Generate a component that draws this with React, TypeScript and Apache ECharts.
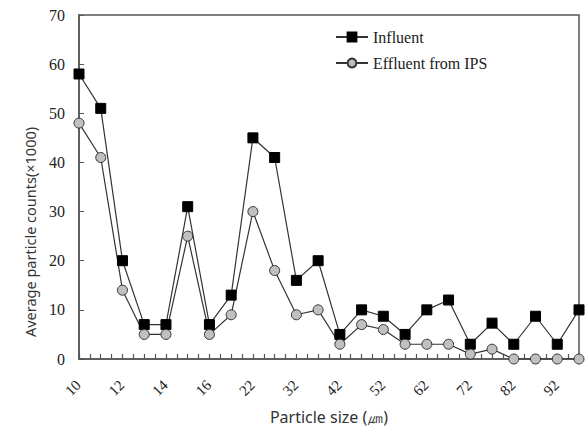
import React, { useEffect, useRef } from "react";
import * as echarts from "echarts";

const sizes = ["10","11","12","13","14","15","16","19","22","27","32","37","42","47","52","57","62","67","72","77","82","87","92","97"];
const shownLabels = ["10","12","14","16","22","32","42","52","62","72","82","92"];
const influent = [58,51,20,7,7,31,7,13,45,41,16,20,5,10,8.7,5,10,12,3,7.3,3,8.7,3,10];
const effluent = [48,41,14,5,5,25,5,9,30,18,9,10,3,7,6,3,3,3,1,2,0,0,0,0];
const yTicks = [0,10,20,30,40,50,60,70];

export default function App() {
  const ref = useRef<HTMLDivElement>(null);
  useEffect(() => {
    const chart = echarts.init(ref.current!, null, { renderer: "svg" });
    const serif = "Liberation Serif";
    chart.setOption({
      animation: false,
      backgroundColor: "#fff",
      grid: {
        left: 79, right: 6, top: 15, bottom: 72,
        outerBoundsMode: "none",
        show: true, borderColor: "#555", borderWidth: 1.5,
      },
      legend: {
        orient: "vertical",
        left: 330,
        top: 24,
        itemWidth: 32,
        itemHeight: 11,
        itemGap: 10,
        textStyle: { fontFamily: serif, fontSize: 16, color: "#222" },
        data: ["Influent", "Effluent from IPS"],
      },
      xAxis: [
        {
          type: "category",
          data: sizes,
          boundaryGap: false,
          axisLine: { show: true, lineStyle: { color: "#555", width: 1.5 } },
          axisTick: { show: false },
          axisLabel: { show: false },
          splitLine: { show: false },
        },
        {
          type: "value",
          min: 0,
          max: sizes.length - 1,
          interval: 1,
          position: "bottom",
          name: "Particle size (㎛)",
          nameLocation: "middle",
          nameGap: 50,
          nameTextStyle: { fontFamily: "Noto Sans", fontSize: 16, color: "#333" },
          axisLine: { show: false },
          axisTick: { show: true, inside: true, length: 5, lineStyle: { color: "#555", width: 1.2 } },
          minorTick: { show: true, splitNumber: 2, length: 5, lineStyle: { color: "#555", width: 1.2 } },
          axisLabel: { show: false },
          splitLine: { show: false },
        },
      ],
      yAxis: {
        type: "value",
        min: 0,
        max: yTicks[yTicks.length - 1],
        interval: 10,
        axisLine: { show: true, lineStyle: { color: "#555", width: 1.5 } },
        axisTick: { show: true, inside: true, length: 5, lineStyle: { color: "#555" } },
        axisLabel: { fontFamily: serif, fontSize: 16, color: "#222", margin: 14 },
        splitLine: { show: false },
      },
      series: [
        {
          name: "Influent",
          type: "line",
          data: influent,
          symbol: "rect",
          symbolSize: 10,
          lineStyle: { color: "#333", width: 1.2 },
          itemStyle: { color: "#000", borderColor: "#000", borderWidth: 1 },
        },
        {
          name: "Effluent from IPS",
          type: "line",
          data: effluent,
          symbol: "circle",
          symbolSize: 10,
          lineStyle: { color: "#333", width: 1.2 },
          itemStyle: { color: "#c0c0c0", borderColor: "#333", borderWidth: 1 },
        },
      ],
    });

    const y0 = chart.convertToPixel({ yAxisIndex: 0 }, 0) as number;
    const labelGraphics = shownLabels.map((lab) => {
      const x = chart.convertToPixel({ xAxisIndex: 0 }, lab) as number;
      return {
        type: "text",
        x: x - 6,
        y: y0 + 29,
        rotation: Math.PI / 4,
        style: {
          text: lab,
          fontFamily: serif,
          fontSize: 15,
          fill: "#222",
          align: "center",
          verticalAlign: "middle",
        },
      };
    });
    chart.setOption({
      graphic: [
        {
          type: "text",
          x: 30,
          y: 232,
          rotation: Math.PI / 2,
          style: {
            text: "Average particle counts(×1000)",
            fontFamily: "Noto Sans",
            fontSize: 14.5,
            fill: "#333",
            align: "center",
            verticalAlign: "middle",
          },
        },
        ...labelGraphics,
      ],
    });
    return () => chart.dispose();
  }, []);
  return <div ref={ref} style={{ width: 585, height: 431, position: "absolute", left: 0, top: 0 }} />;
}
